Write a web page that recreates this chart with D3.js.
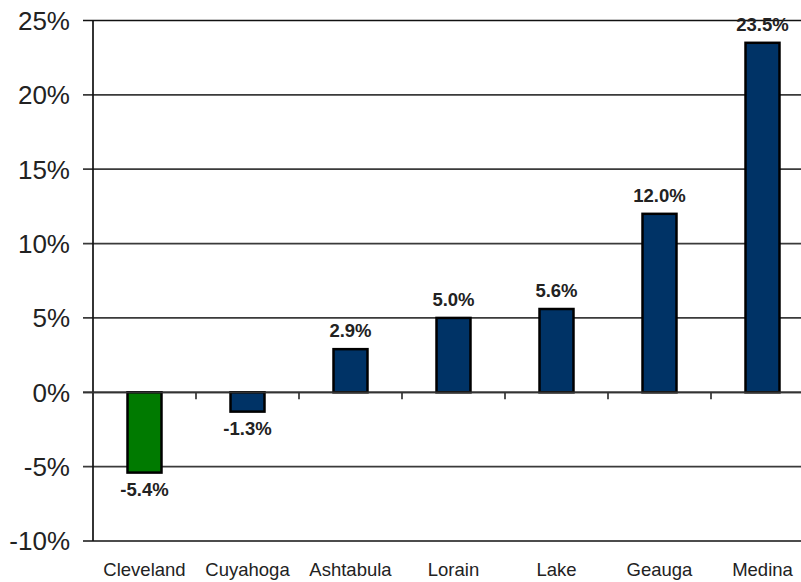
<!DOCTYPE html>
<html>
<head>
<meta charset="utf-8">
<script src="https://cdn.jsdelivr.net/npm/d3@7"></script>
<style>
  body { margin: 0; background: #fff; }
  svg { display: block; font-family: "Liberation Sans", Arial, sans-serif; }
</style>
</head>
<body>
<div id="chart"></div>
<script>
// chart data
const counties = ["Cleveland", "Cuyahoga", "Ashtabula", "Lorain", "Lake", "Geauga", "Medina"];
const changes = [-5.4, -1.3, 2.9, 5.0, 5.6, 12.0, 23.5];
const barColors = ["#007a00", "#003366", "#003366", "#003366", "#003366", "#003366", "#003366"];
const yTicks = [-10, -5, 0, 5, 10, 15, 20, 25];

const WIDTH = 801;
const HEIGHT = 582;
const margin = { top: 20.5, left: 93, bottom: 41 };
const plotRight = 814; // plot runs past the right edge of the picture

const svg = d3.select("#chart")
  .append("svg")
  .attr("width", WIDTH)
  .attr("height", HEIGHT);

const x = d3.scaleBand()
  .domain(counties)
  .range([margin.left, plotRight])
  .paddingInner(0.67)
  .paddingOuter(0.335);

const y = d3.scaleLinear()
  .domain([-10, 25])
  .range([HEIGHT - margin.bottom, margin.top]);

// gridlines with small ticks left of the axis
svg.append("g")
  .selectAll("line")
  .data(yTicks)
  .enter()
  .append("line")
  .attr("x1", margin.left - 10)
  .attr("x2", plotRight)
  .attr("y1", (d) => y(d))
  .attr("y2", (d) => y(d))
  .attr("stroke", (d) => (d === -10 || d === 25 ? "#111" : "#3a3a3a"))
  .attr("stroke-width", 1.7);

// y labels
svg.append("g")
  .selectAll("text")
  .data(yTicks)
  .enter()
  .append("text")
  .attr("x", 70)
  .attr("y", (d) => y(d))
  .attr("dy", "0.36em")
  .attr("text-anchor", "end")
  .attr("font-size", "26px")
  .attr("fill", "#222")
  .text((d) => d + "%");

// y axis line
svg.append("line")
  .attr("x1", margin.left)
  .attr("x2", margin.left)
  .attr("y1", y(25))
  .attr("y2", y(-10))
  .attr("stroke", "#111")
  .attr("stroke-width", 1.7);

// bars
svg.append("g")
  .selectAll("rect")
  .data(changes)
  .enter()
  .append("rect")
  .attr("x", (d, i) => x(counties[i]))
  .attr("width", x.bandwidth())
  .attr("y", (d) => y(Math.max(0, d)))
  .attr("height", (d) => Math.abs(y(d) - y(0)))
  .attr("fill", (d, i) => barColors[i])
  .attr("stroke", "#000")
  .attr("stroke-width", 2.5);

// zero line with category ticks
svg.append("line")
  .attr("x1", margin.left - 10)
  .attr("x2", plotRight)
  .attr("y1", y(0))
  .attr("y2", y(0))
  .attr("stroke", "#333")
  .attr("stroke-width", 1.7);

const step = x.step();
svg.append("g")
  .selectAll("line")
  .data(counties)
  .enter()
  .append("line")
  .attr("x1", (d) => x(d) - x.paddingOuter() * step + step)
  .attr("x2", (d) => x(d) - x.paddingOuter() * step + step)
  .attr("y1", y(0))
  .attr("y2", y(0) + 7)
  .attr("stroke", "#333")
  .attr("stroke-width", 1.7);

// value labels
svg.append("g")
  .selectAll("text")
  .data(changes)
  .enter()
  .append("text")
  .attr("x", (d, i) => x(counties[i]) + x.bandwidth() / 2)
  .attr("y", (d) => (d >= 0 ? y(d) - 12 : y(d) + 23))
  .attr("text-anchor", "middle")
  .attr("font-size", "18.5px")
  .attr("font-weight", "bold")
  .attr("fill", "#222")
  .text((d) => d.toFixed(1) + "%");

// category labels
svg.append("g")
  .selectAll("text")
  .data(counties)
  .enter()
  .append("text")
  .attr("x", (d) => x(d) + x.bandwidth() / 2)
  .attr("y", 576)
  .attr("text-anchor", "middle")
  .attr("font-size", "18.5px")
  .attr("fill", "#222")
  .text((d) => d);
</script>
</body>
</html>
